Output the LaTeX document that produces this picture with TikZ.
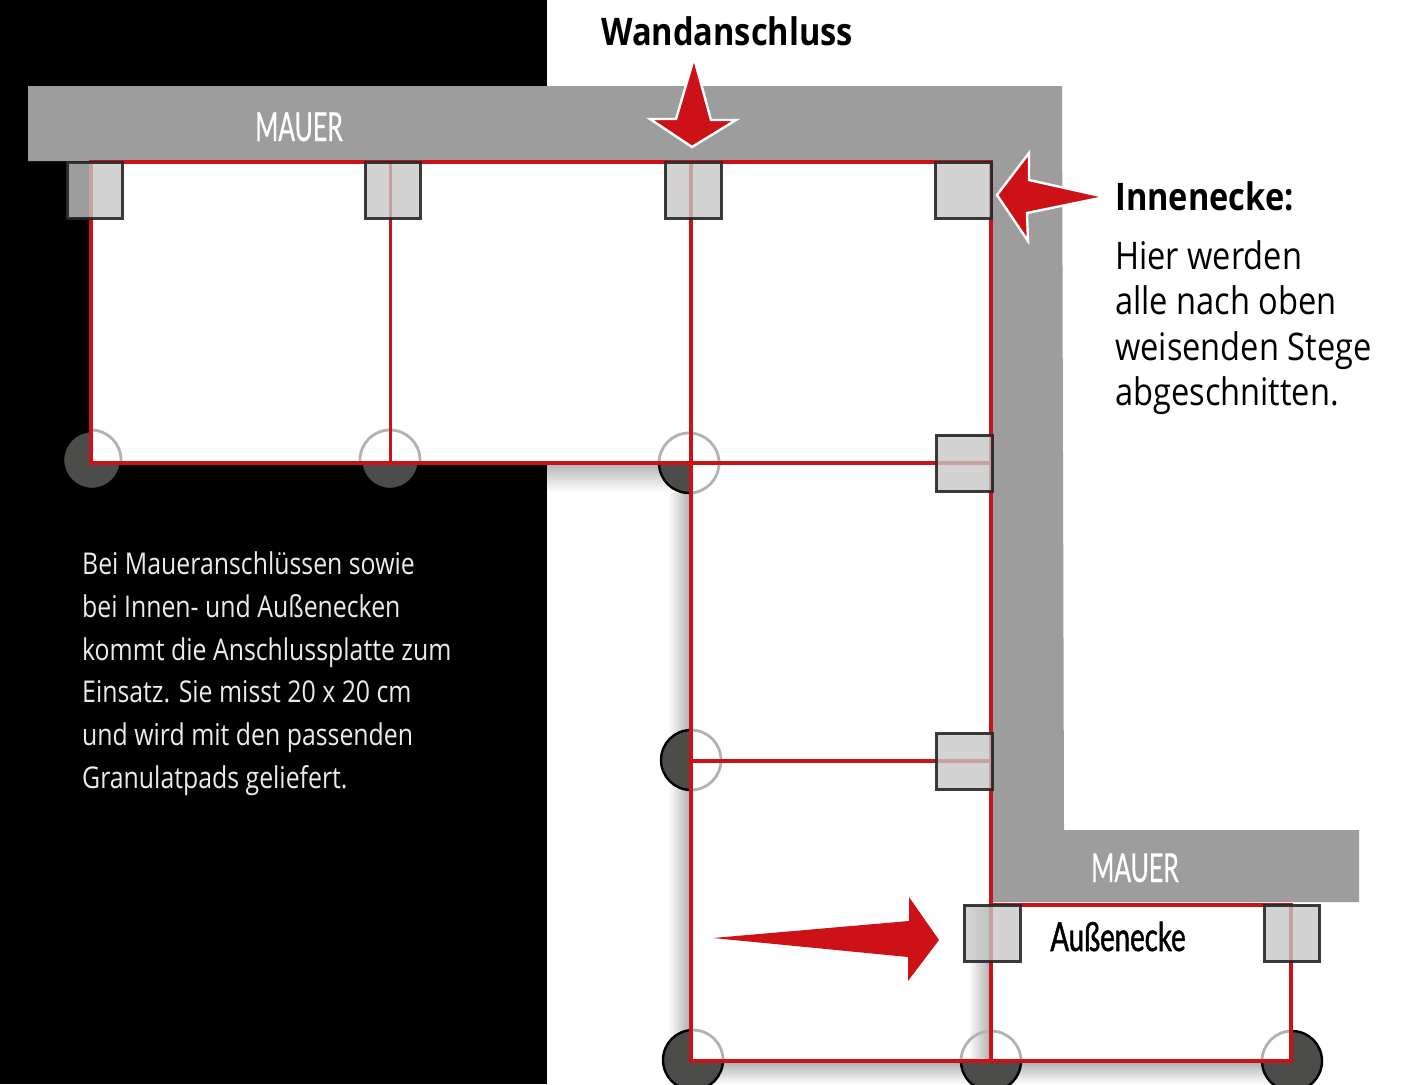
\documentclass[tikz,border=0pt]{standalone}
\usepackage{fontspec}
\setmainfont{Open Sans}[FakeStretch=0.858]
\newfontfamily\bodyfont{Open Sans}[FakeStretch=0.828]
\newfontfamily\maufont{Lato}[FakeStretch=0.62,FakeBold=0.5]
\newfontfamily\ausfont{Lato}[FakeStretch=0.69,FakeBold=1.2]
\definecolor{redc}{HTML}{CC1216}
\definecolor{wallc}{HTML}{9D9D9D}
\definecolor{padc}{HTML}{C6C8C7}
\definecolor{diskc}{HTML}{4C4C4A}
\tikzset{
  x=1pt,y=-1pt,
  plateline/.style={draw=redc,line width=3.1pt},
  padbox/.style={fill=padc,fill opacity=0.79,draw=black!85,draw opacity=0.9,line width=3pt},
  footdisk/.style={fill=diskc,draw=black,line width=2.4pt},
  footring/.style={draw=black!30,line width=2.8pt},
  redarrow/.style={fill=redc,draw=white,line width=2.4pt,line join=miter},
  walllabel/.style={anchor=base,inner sep=0pt,text=white,font=\maufont\fontsize{40}{40}\selectfont},
  toptext/.style={anchor=base west,inner sep=0pt,text=black,font=\fontsize{38}{38}\selectfont},
  headtext/.style={anchor=base west,inner sep=0pt,text=black,font=\bfseries\fontsize{38}{38}\selectfont},
  bodytext/.style={anchor=base west,inner sep=0pt,text=white!92!black,font=\bodyfont\fontsize{30}{30}\selectfont},
  softshade/.style={draw=none}
}
\begin{document}
\begin{tikzpicture}
\useasboundingbox (0,0) rectangle (1404,1084);
\fill[white] (0,0) rectangle (1404,1084);
\fill[black] (0,0) rectangle (547,1084);
% soft shadows
\shade[softshade,left color=white,right color=black!32] (668,490) rectangle (691,1084);
\shade[softshade,top color=black!30,bottom color=white] (547,463) rectangle (691,492);
\shade[softshade,top color=black!32,bottom color=white] (691,1061) rectangle (1300,1084);
% wall
\fill[wallc] (28,86) -- (1062,86) -- (1064,830) -- (1359,830) -- (1359,902) -- (991,902) -- (991,162) -- (28,161) -- cycle;
% foot disks
\foreach \px/\py/\r in {92/460/29,390/460/29,689/463/30,691/760/30,693/1060/30,991/1061/30,1292/1061/30}
  \fill[footdisk] (\px,\py) circle[radius=\r];
% plates
\fill[white] (91,162) -- (991,162) -- (991,905) -- (1291,905) -- (1291,1061) -- (691,1061) -- (691,463) -- (91,463) -- cycle;
\shade[softshade,left color=white,right color=black!32] (968,905) rectangle (991,1061);
% rings
\begin{scope}
\clip (91,162) -- (991,162) -- (991,905) -- (1291,905) -- (1291,1061) -- (691,1061) -- (691,463) -- (91,463) -- cycle;
\foreach \px/\py in {91/460,390/460,689/463,691/760,693/1060,991/1061,1292/1061}
  \draw[footring] (\px,\py) circle[radius=30];
\end{scope}
% red lines
\draw[plateline] (91,162) -- (991,162) -- (991,905) -- (1291,905) -- (1291,1061) -- (691,1061) -- (691,463) -- (91,463) -- cycle;
\draw[plateline] (390.5,162) -- (390.5,463);
\draw[plateline] (691,162) -- (691,463);
\draw[plateline] (691,463) -- (991,463);
\draw[plateline] (691,761) -- (991,761);
\draw[plateline] (991,905) -- (991,1061);
% pads
\foreach \ax/\ay/\bx/\by in {67/162/122/218,365/162/420/218,665/162/721/218,935/162/991/218,936/435/992/491,936/733/992/789,964/905/1020/961,1264/905/1319/961}
  \draw[padbox] (\ax,\ay) rectangle (\bx,\by);
% arrows
\draw[redarrow] (694,58) -- (711,120) -- (736,120) -- (692,147) -- (650,119) -- (676,119) -- cycle;
\draw[redarrow] (1105,197) -- (1029,180) -- (1029,153) -- (997,195) -- (1028,241) -- (1027,213) -- cycle;
\fill[redc] (713,938) -- (909,921) -- (909,897) -- (939,940) -- (908,981) -- (908,957) -- cycle;
% texts
\node[walllabel] (mauerA) at (299,141) {MAUER};
\node[walllabel] (mauerB) at (1135,882) {MAUER};
\node[headtext] (wand) at (601,45) {Wandanschluss};
\node[headtext] (inne) at (1115,210) {Innenecke:};
\node[toptext] (i1) at (1115,269) {Hier werden};
\node[toptext] (i2) at (1115,314) {alle nach oben};
\node[toptext] (i3) at (1115,360) {weisenden Stege};
\node[toptext] (i4) at (1115,405) {abgeschnitten.};
\node[walllabel,text=black,font=\ausfont\fontsize{40}{40}\selectfont] (aussen) at (1118,951) {Außenecke};
\node[bodytext] (b1) at (82,574) {Bei Maueranschlüssen sowie};
\node[bodytext] (b2) at (82,617) {bei Innen- und Außenecken};
\node[bodytext] (b3) at (82,660) {kommt die Anschlussplatte zum};
\node[bodytext] (b4) at (82,702) {Einsatz. Sie misst 20 x 20 cm};
\node[bodytext] (b5) at (82,745) {und wird mit den passenden};
\node[bodytext] (b6) at (82,788) {Granulatpads geliefert.};
\end{tikzpicture}
\end{document}
